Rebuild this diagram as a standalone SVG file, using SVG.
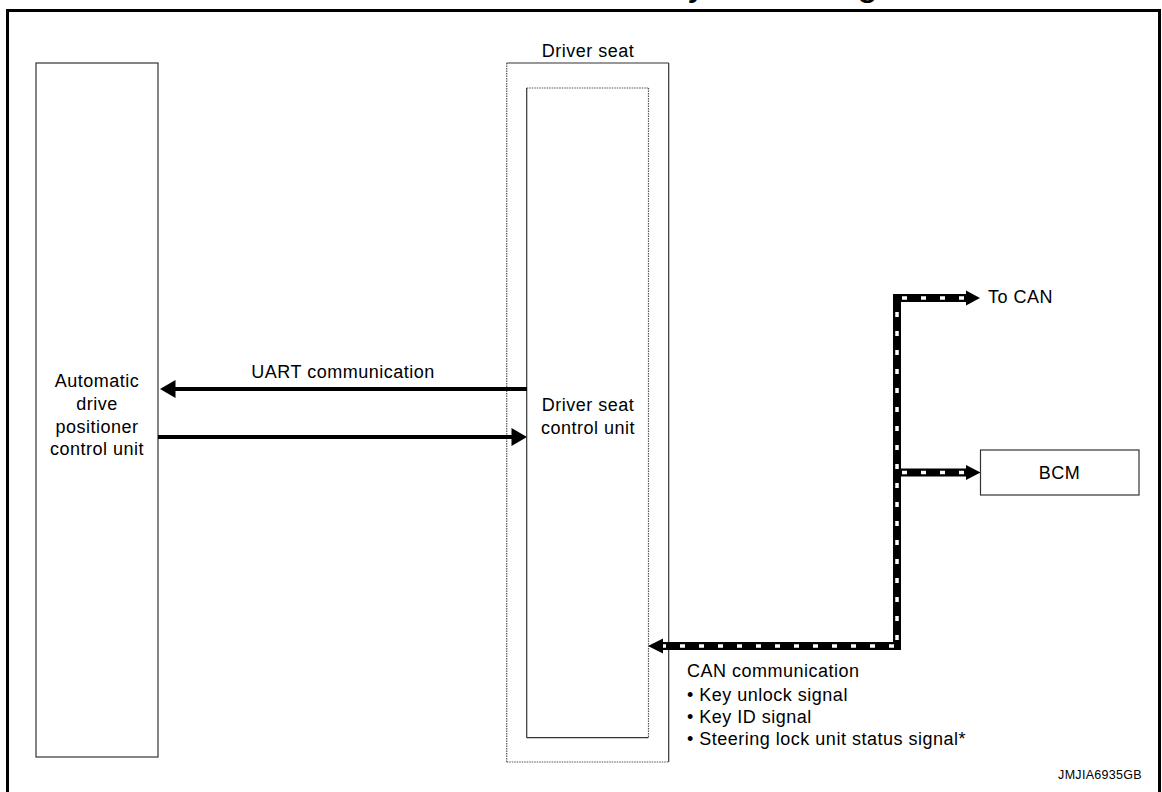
<svg xmlns="http://www.w3.org/2000/svg" width="1162" height="792" viewBox="0 0 1162 792">
<style>
.t{font-family:"Liberation Sans",Arial,sans-serif;font-size:18px;letter-spacing:0.5px;fill:#000}
.c{text-anchor:middle}
.box{fill:#fff;stroke:#333;stroke-width:1.2}
.sol{fill:none;stroke:#333;stroke-width:1.2}
.dot{fill:none;stroke:#555;stroke-width:1.2;stroke-dasharray:1.5 1}
.uart{fill:none;stroke:#000;stroke-width:4.2}
.canb{fill:none;stroke:#000;stroke-width:8;stroke-linejoin:miter}
.canw{fill:none;stroke:#fff;stroke-width:3.5;stroke-dasharray:5 14}
.ah{fill:#000}
</style>
<rect width="1162" height="792" fill="#fff"/>
<g id="frame">
<text x="662.7" y="-4.7" style="font-family:'Liberation Sans',Arial,sans-serif;font-size:38px">System Diagram</text>
<path d="M7.5,800 V10.5 H1159.5 V800" fill="none" stroke="#000" stroke-width="3"/>
</g>
<g id="adp-unit">
<rect class="box" x="36" y="63" width="122" height="694"/>
<text class="t c" x="97" y="387">Automatic</text>
<text class="t c" x="97" y="410">drive</text>
<text class="t c" x="97" y="433">positioner</text>
<text class="t c" x="97" y="455">control unit</text>
</g>
<g id="driver-seat">
<text class="t c" x="588" y="57">Driver seat</text>
<line class="sol" x1="506.7" y1="63" x2="668.7" y2="63"/>
<line class="dot" x1="506.7" y1="63" x2="506.7" y2="762"/>
<line class="sol" x1="668.7" y1="63" x2="668.7" y2="762"/>
<line class="dot" x1="506.7" y1="762" x2="668.7" y2="762"/>
</g>
<g id="driver-seat-control-unit">
<line class="dot" x1="526.7" y1="88" x2="648.5" y2="88"/>
<line class="sol" x1="526.7" y1="88" x2="526.7" y2="737.7"/>
<line class="dot" x1="648.5" y1="88" x2="648.5" y2="737.7"/>
<line class="sol" x1="526.7" y1="737.7" x2="648.5" y2="737.7"/>
<text class="t c" x="588" y="411">Driver seat</text>
<text class="t c" x="588" y="434">control unit</text>
</g>
<g id="bcm">
<rect class="box" x="980.5" y="450" width="158.5" height="45"/>
<text class="t c" x="1059.5" y="478.5">BCM</text>
</g>
<g id="connectors">
<line class="uart" x1="527" y1="389" x2="174" y2="389"/>
<polygon class="ah" points="160,389 175.5,380 175.5,398"/>
<text class="t c" x="343" y="378">UART communication</text>
<line class="uart" x1="158" y1="437" x2="513" y2="437"/>
<polygon class="ah" points="527,437 511.5,428 511.5,446"/>
<path class="canb" d="M662,646 H897 V298 H967"/>
<path class="canb" d="M897,472.5 H967"/>
<path class="canw" d="M894,646 H662"/>
<path class="canw" d="M897,640 V302"/>
<path class="canw" d="M902,298 H967"/>
<path class="canw" d="M902,472.5 H967"/>
<polygon class="ah" points="648,646 663,638.5 663,653.5"/>
<polygon class="ah" points="980,298 966,290.5 966,305.5"/>
<polygon class="ah" points="980.5,472.5 966,465 966,480"/>
<text class="t" x="988" y="303">To CAN</text>
<text class="t" x="687" y="677">CAN communication</text>
<text class="t" x="687" y="701">• Key unlock signal</text>
<text class="t" x="687" y="723">• Key ID signal</text>
<text class="t" x="687" y="745">• Steering lock unit status signal*</text>
</g>
<text x="1142" y="779" text-anchor="end" style="font-family:'Liberation Sans',Arial,sans-serif;font-size:12.5px;letter-spacing:0.3px">JMJIA6935GB</text>
</svg>
